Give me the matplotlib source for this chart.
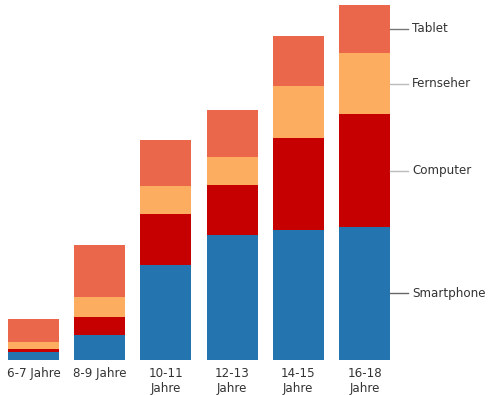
import matplotlib
matplotlib.use("Agg")
import matplotlib.pyplot as plt
import numpy as np

categories = ["6-7 Jahre", "8-9 Jahre", "10-11\nJahre", "12-13\nJahre", "14-15\nJahre", "16-18\nJahre"]
series_names = ["Smartphone", "Computer", "Fernseher", "Tablet"]
smartphone = [6, 18, 68, 89, 93, 95]
computer = [2, 13, 36, 36, 65, 80]
fernseher = [5, 14, 20, 20, 37, 44]
tablet = [16, 37, 33, 33, 36, 34]

colors = ["#2474b0", "#c60000", "#fdad5f", "#ea674c"]
line_colors = ["#666666", "#bbbbbb", "#bbbbbb", "#777777"]

W, H = 497, 395
fig = plt.figure(figsize=(W / 100, H / 100), dpi=100)
plt.rcParams['font.family'] = ['DejaVu Sans']

x0 = 0.4 / W
x1 = 397.6 / W
y0 = 1 - 360 / H
y1 = 1 - 5 / H
ax = fig.add_axes([x0, y0, x1 - x0, y1 - y0])

x = np.arange(len(categories))
width = 0.77
data = [smartphone, computer, fernseher, tablet]
bottom = np.zeros(len(categories))
for vals, c in zip(data, colors):
    ax.bar(x, vals, width, bottom=bottom, color=c, linewidth=0)
    bottom += np.array(vals)

ax.set_xlim(-0.5, len(categories) - 0.5)
ax.set_ylim(0, bottom.max())
for s in ax.spines.values():
    s.set_visible(False)
ax.set_yticks([])
ax.set_xticks(x)
ax.set_xticklabels(categories, fontsize=8.6, color="#333333", linespacing=1.25)
ax.tick_params(axis="x", length=0, pad=5)

# leader labels at last bar
last = len(categories) - 1
cum = 0
for name, vals, lc in zip(series_names, data, line_colors):
    mid = cum + vals[last] / 2
    cum += vals[last]
    ax.plot([last + width / 2, 5.66], [mid, mid], color=lc, lw=1, clip_on=False)
    ax.text(5.72, mid, name, fontsize=8.6, color="#333333", va="center", ha="left", clip_on=False)

fig.savefig("out.png", dpi=100)
